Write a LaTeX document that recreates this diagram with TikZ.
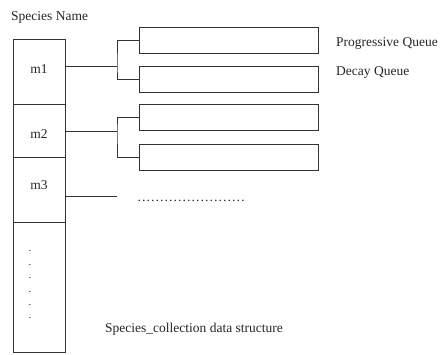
\documentclass[tikz,border=0pt]{standalone}
\usepackage{fontspec}
\setmainfont{Liberation Serif}
\begin{document}
\begin{tikzpicture}[x=1pt,y=-1pt,
  ln/.style={draw=black!80,line width=0.8pt},
  cell/.style={ln,rectangle,minimum width=52pt,inner sep=0pt,anchor=north west},
  queue/.style={ln,rectangle,minimum width=179pt,minimum height=25.5pt,inner sep=0pt,anchor=north west},
  txt/.style={font=\fontsize{13.5}{16}\selectfont,inner sep=0pt,text=black!85}]
\useasboundingbox (0,0) rectangle (442,354);

% species column
\node[cell,minimum height=65pt] (c1) at (13,39) {};
\node[cell,minimum height=53pt] (c2) at (13,104) {};
\node[cell,minimum height=65pt] (c3) at (13,157) {};
\node[cell,minimum height=130pt] (c4) at (13,222) {};

\node[txt] (m1) at (39,69) {m1};
\node[txt] (m2) at (39,134) {m2};
\node[txt] (m3) at (39,185) {m3};
\node[txt,align=center,font=\fontsize{11}{13.4}\selectfont] (vd) at (30,285) {.\\.\\.\\.\\.\\.};

% queues
\node[queue] (q1) at (139,27) {};
\node[queue] (q2) at (139,66) {};
\node[queue] (q3) at (139,104) {};
\node[queue] (q4) at (139,144) {};

% connectors
\coordinate (j1) at (117,66);
\coordinate (j2) at (117,131);
\coordinate (j3) at (117,196);
\draw[ln] (c1.east |- j1) -- (j1);
\draw[ln] (q1.west) -| (j1) |- (q2.west);
\draw[ln] (c2.east |- j2) -- (j2);
\draw[ln] (q3.west) -| (j2) |- (q4.west);
\draw[ln] (c3.east |- j3) -- (j3);

% labels
\node[txt,anchor=west] (hdr) at (11,17) {Species Name};
\node[txt,anchor=west] (pq) at (336,43) {Progressive Queue};
\node[txt,anchor=west] (dq) at (336,72) {Decay Queue};
\node[txt,anchor=west] (more) at (137,201) {……………………};
\node[txt,anchor=west] (cap) at (105,329) {Species\_collection data structure};
\end{tikzpicture}
\end{document}
